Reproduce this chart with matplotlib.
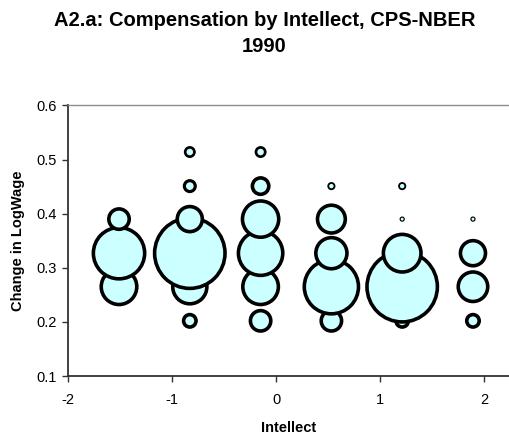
import numpy as np
import matplotlib
matplotlib.use("Agg")
import matplotlib.pyplot as plt

plt.rcParams['font.family'] = ['Liberation Sans', 'DejaVu Sans']

# bubble data: intellect position, change in log wage, relative bubble area
intellect = [-1.51, -1.51, -1.51,
             -0.83, -0.83, -0.83, -0.83, -0.83, -0.83,
             -0.15, -0.15, -0.15, -0.15, -0.15, -0.15,
             0.53, 0.53, 0.53, 0.53, 0.53,
             1.21, 1.21, 1.21, 1.21, 1.21,
             1.89, 1.89, 1.89, 1.89]
logwage = [0.265, 0.327, 0.390,
           0.202, 0.265, 0.327, 0.390, 0.451, 0.514,
           0.202, 0.265, 0.327, 0.390, 0.451, 0.514,
           0.202, 0.265, 0.327, 0.390, 0.451,
           0.202, 0.265, 0.327, 0.390, 0.451,
           0.202, 0.265, 0.327, 0.390]
bubble_size = [28, 55, 10.5,
               4.7, 26, 100, 15, 3.6, 2.6,
               10.5, 28, 42, 29, 7.3, 2.6,
               10.5, 61, 22, 18, 1.2,
               4.7, 100, 31, 0.5, 1.2,
               4.7, 20, 15, 0.5]

x_ticks = [-2, -1, 0, 1, 2]
y_ticks = [0.1, 0.2, 0.3, 0.4, 0.5, 0.6]

fig = plt.figure(figsize=(5.09, 4.36), dpi=100)
ax = fig.add_axes([68 / 509, 1 - 376 / 436, 441 / 509, (376 - 105.5) / 436])

size = np.array(bubble_size)
r_px = 37 * np.sqrt(size / 100.0)           # outer radius in pixels
lw_px = np.minimum(3.6, 0.45 * r_px)
path_r = r_px - lw_px / 2
s = (2 * path_r * 0.72) ** 2
ax.scatter(intellect, logwage, s=s, facecolor='#CCFFFF', edgecolor='black',
           linewidths=lw_px * 0.72, zorder=3, clip_on=False)

ax.set_xlim(-2, 2.236)
ax.set_ylim(0.1, 0.6)
ax.set_xticks(x_ticks)
ax.set_yticks(y_ticks)
ax.set_xticklabels([str(t) for t in x_ticks], fontsize=10.5)
ax.set_yticklabels(['%.1f' % t for t in y_ticks], fontsize=10.5)
ax.tick_params(direction='out', length=4, width=1, color='#333333')
ax.tick_params(axis='x', pad=8)
ax.tick_params(axis='y', pad=4)

ax.spines['right'].set_visible(False)
ax.spines['top'].set_color('#8c8c8c')
ax.spines['top'].set_linewidth(1)
for sp in ['left', 'bottom']:
    ax.spines[sp].set_color('#333333')
    ax.spines[sp].set_linewidth(1.3)

ax.set_xlabel('Intellect', fontsize=10.5, fontweight='bold', labelpad=10)
ax.set_ylabel('Change in LogWage', fontsize=10.5, fontweight='bold', labelpad=8)

fig.text(264.5 / 509, 1 - 33.5 / 436, 'A2.a: Compensation by Intellect, CPS-NBER\n1990',
         ha='center', va='center', fontsize=14.5, fontweight='bold', linespacing=1.45)

fig.savefig('out.png', dpi=100)
